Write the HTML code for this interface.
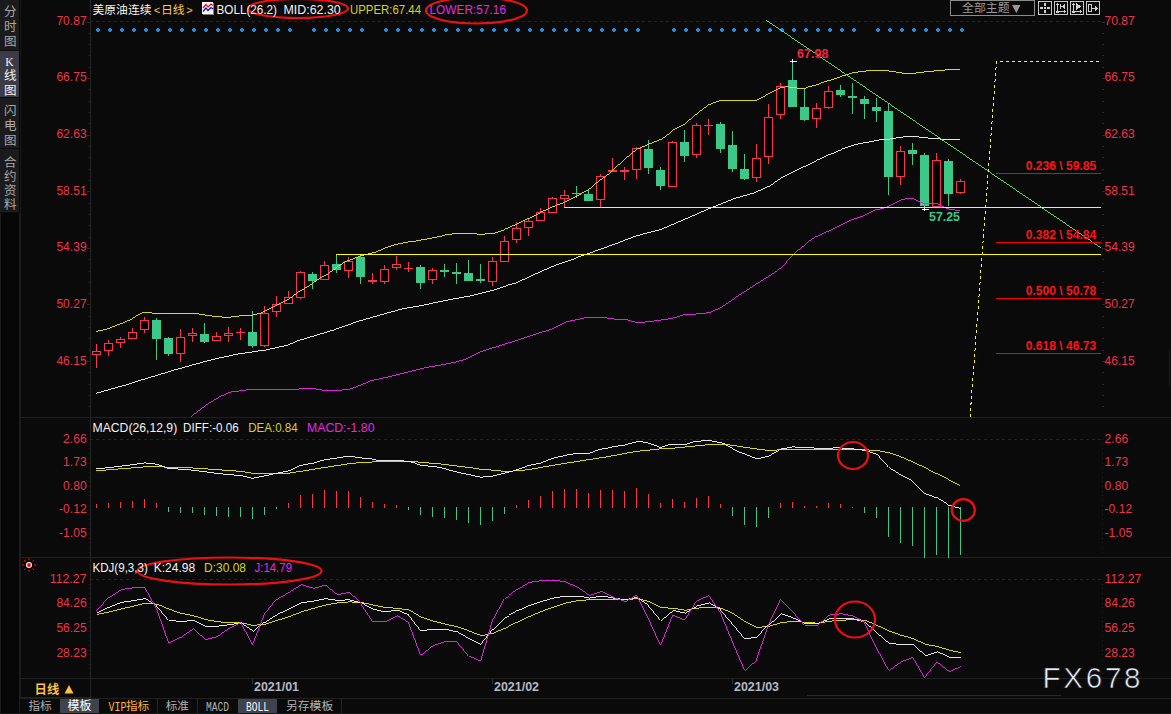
<!DOCTYPE html><html><head><meta charset="utf-8"><style>html,body{margin:0;padding:0;background:#0a0a0a;overflow:hidden}svg{display:block}</style></head><body><svg width="1171" height="714" viewBox="0 0 1171 714" font-family="Liberation Sans, sans-serif" font-size="12">
<rect width="1171" height="714" fill="#0a0a0a"/>
<rect x="0" y="0" width="20" height="714" fill="#060606"/>
<rect x="0" y="0" width="19" height="213" fill="#1b1b1d"/>
<rect x="0" y="51" width="19" height="46" fill="#3c3c46"/>
<line x1="0" x2="19" y1="50.5" y2="50.5" stroke="#0c0c0c"/>
<line x1="0" x2="19" y1="97.5" y2="97.5" stroke="#0c0c0c"/>
<line x1="0" x2="19" y1="148.5" y2="148.5" stroke="#0c0c0c"/>
<line x1="0" x2="19" y1="212.5" y2="212.5" stroke="#0c0c0c"/>
<g fill="#a8a8a8" font-family="'Liberation Sans', 'Noto Sans CJK SC', sans-serif" font-size="12.5"><text x="4" y="16">分</text><text x="4" y="31">时</text><text x="4" y="46">图</text></g>
<text x="9.5" y="66" text-anchor="middle" font-family="Liberation Serif, serif" font-size="11.5" fill="#f4f4f4">K</text>
<g fill="#f4f4f4" font-family="'Liberation Sans', 'Noto Sans CJK SC', sans-serif" font-size="12.5"><text x="4" y="80">线</text><text x="4" y="95">图</text></g>
<g fill="#a8a8a8" font-family="'Liberation Sans', 'Noto Sans CJK SC', sans-serif" font-size="12.5"><text x="4" y="115">闪</text><text x="4" y="130">电</text><text x="4" y="145">图</text></g>
<g fill="#a8a8a8" font-family="'Liberation Sans', 'Noto Sans CJK SC', sans-serif" font-size="12.5"><text x="4" y="167">合</text><text x="4" y="181">约</text><text x="4" y="195">资</text><text x="4" y="209">料</text></g>
<g shape-rendering="crispEdges">
<line x1="20.5" x2="20.5" y1="0" y2="698" stroke="#1a1a1a"/>
<line x1="90.5" x2="90.5" y1="0" y2="697" stroke="#262626"/>
<line x1="21" x2="1171" y1="417.5" y2="417.5" stroke="#202020"/>
<line x1="21" x2="1171" y1="557.5" y2="557.5" stroke="#202020"/>
<line x1="21" x2="1171" y1="678.5" y2="678.5" stroke="#202020"/>
<line x1="20" x2="91" y1="697.5" y2="697.5" stroke="#222222"/>
<line x1="20" x2="1171" y1="698.5" y2="698.5" stroke="#202020"/>
<line x1="0" x2="1171" y1="713.5" y2="713.5" stroke="#161616"/>
<line x1="0.5" x2="0.5" y1="213" y2="714" stroke="#1c1c1c"/>
<line x1="19.5" x2="19.5" y1="213" y2="714" stroke="#1e1e1e"/>
<line x1="807" x2="1061" y1="695.5" y2="695.5" stroke="#2a2a2a"/>
<line x1="1102.5" x2="1102.5" y1="439" y2="556" stroke="#1e1e1e" stroke-dasharray="1 3.7"/>
<line x1="1102.5" x2="1102.5" y1="579" y2="678" stroke="#1e1e1e" stroke-dasharray="1 3.7"/>
<line x1="89.5" x2="89.5" y1="439" y2="556" stroke="#1e1e1e" stroke-dasharray="1 3.7"/>
<line x1="89.5" x2="89.5" y1="579" y2="678" stroke="#1e1e1e" stroke-dasharray="1 3.7"/>
<line x1="1169.5" x2="1169.5" y1="350" y2="386" stroke="#1c1c1c"/>
<line x1="87" x2="90" y1="22.5" y2="22.5" stroke="#2a2a2a"/>
<line x1="1102" x2="1105" y1="22.5" y2="22.5" stroke="#2a2a2a"/>
<line x1="88.5" x2="90" y1="33.5" y2="33.5" stroke="#2a2a2a"/>
<line x1="1102" x2="1103.5" y1="33.5" y2="33.5" stroke="#2a2a2a"/>
<line x1="88.5" x2="90" y1="44.5" y2="44.5" stroke="#2a2a2a"/>
<line x1="1102" x2="1103.5" y1="44.5" y2="44.5" stroke="#2a2a2a"/>
<line x1="88.5" x2="90" y1="55.5" y2="55.5" stroke="#2a2a2a"/>
<line x1="1102" x2="1103.5" y1="55.5" y2="55.5" stroke="#2a2a2a"/>
<line x1="88.5" x2="90" y1="67.5" y2="67.5" stroke="#2a2a2a"/>
<line x1="1102" x2="1103.5" y1="67.5" y2="67.5" stroke="#2a2a2a"/>
<line x1="87" x2="90" y1="78.5" y2="78.5" stroke="#2a2a2a"/>
<line x1="1102" x2="1105" y1="78.5" y2="78.5" stroke="#2a2a2a"/>
<line x1="88.5" x2="90" y1="89.5" y2="89.5" stroke="#2a2a2a"/>
<line x1="1102" x2="1103.5" y1="89.5" y2="89.5" stroke="#2a2a2a"/>
<line x1="88.5" x2="90" y1="101.5" y2="101.5" stroke="#2a2a2a"/>
<line x1="1102" x2="1103.5" y1="101.5" y2="101.5" stroke="#2a2a2a"/>
<line x1="88.5" x2="90" y1="112.5" y2="112.5" stroke="#2a2a2a"/>
<line x1="1102" x2="1103.5" y1="112.5" y2="112.5" stroke="#2a2a2a"/>
<line x1="88.5" x2="90" y1="123.5" y2="123.5" stroke="#2a2a2a"/>
<line x1="1102" x2="1103.5" y1="123.5" y2="123.5" stroke="#2a2a2a"/>
<line x1="87" x2="90" y1="135.5" y2="135.5" stroke="#2a2a2a"/>
<line x1="1102" x2="1105" y1="135.5" y2="135.5" stroke="#2a2a2a"/>
<line x1="88.5" x2="90" y1="146.5" y2="146.5" stroke="#2a2a2a"/>
<line x1="1102" x2="1103.5" y1="146.5" y2="146.5" stroke="#2a2a2a"/>
<line x1="88.5" x2="90" y1="157.5" y2="157.5" stroke="#2a2a2a"/>
<line x1="1102" x2="1103.5" y1="157.5" y2="157.5" stroke="#2a2a2a"/>
<line x1="88.5" x2="90" y1="169.5" y2="169.5" stroke="#2a2a2a"/>
<line x1="1102" x2="1103.5" y1="169.5" y2="169.5" stroke="#2a2a2a"/>
<line x1="88.5" x2="90" y1="180.5" y2="180.5" stroke="#2a2a2a"/>
<line x1="1102" x2="1103.5" y1="180.5" y2="180.5" stroke="#2a2a2a"/>
<line x1="87" x2="90" y1="191.5" y2="191.5" stroke="#2a2a2a"/>
<line x1="1102" x2="1105" y1="191.5" y2="191.5" stroke="#2a2a2a"/>
<line x1="88.5" x2="90" y1="203.5" y2="203.5" stroke="#2a2a2a"/>
<line x1="1102" x2="1103.5" y1="203.5" y2="203.5" stroke="#2a2a2a"/>
<line x1="88.5" x2="90" y1="214.5" y2="214.5" stroke="#2a2a2a"/>
<line x1="1102" x2="1103.5" y1="214.5" y2="214.5" stroke="#2a2a2a"/>
<line x1="88.5" x2="90" y1="225.5" y2="225.5" stroke="#2a2a2a"/>
<line x1="1102" x2="1103.5" y1="225.5" y2="225.5" stroke="#2a2a2a"/>
<line x1="88.5" x2="90" y1="237.5" y2="237.5" stroke="#2a2a2a"/>
<line x1="1102" x2="1103.5" y1="237.5" y2="237.5" stroke="#2a2a2a"/>
<line x1="87" x2="90" y1="248.5" y2="248.5" stroke="#2a2a2a"/>
<line x1="1102" x2="1105" y1="248.5" y2="248.5" stroke="#2a2a2a"/>
<line x1="88.5" x2="90" y1="259.5" y2="259.5" stroke="#2a2a2a"/>
<line x1="1102" x2="1103.5" y1="259.5" y2="259.5" stroke="#2a2a2a"/>
<line x1="88.5" x2="90" y1="271.5" y2="271.5" stroke="#2a2a2a"/>
<line x1="1102" x2="1103.5" y1="271.5" y2="271.5" stroke="#2a2a2a"/>
<line x1="88.5" x2="90" y1="282.5" y2="282.5" stroke="#2a2a2a"/>
<line x1="1102" x2="1103.5" y1="282.5" y2="282.5" stroke="#2a2a2a"/>
<line x1="88.5" x2="90" y1="293.5" y2="293.5" stroke="#2a2a2a"/>
<line x1="1102" x2="1103.5" y1="293.5" y2="293.5" stroke="#2a2a2a"/>
<line x1="87" x2="90" y1="304.5" y2="304.5" stroke="#2a2a2a"/>
<line x1="1102" x2="1105" y1="304.5" y2="304.5" stroke="#2a2a2a"/>
<line x1="88.5" x2="90" y1="316.5" y2="316.5" stroke="#2a2a2a"/>
<line x1="1102" x2="1103.5" y1="316.5" y2="316.5" stroke="#2a2a2a"/>
<line x1="88.5" x2="90" y1="327.5" y2="327.5" stroke="#2a2a2a"/>
<line x1="1102" x2="1103.5" y1="327.5" y2="327.5" stroke="#2a2a2a"/>
<line x1="88.5" x2="90" y1="338.5" y2="338.5" stroke="#2a2a2a"/>
<line x1="1102" x2="1103.5" y1="338.5" y2="338.5" stroke="#2a2a2a"/>
<line x1="88.5" x2="90" y1="350.5" y2="350.5" stroke="#2a2a2a"/>
<line x1="1102" x2="1103.5" y1="350.5" y2="350.5" stroke="#2a2a2a"/>
<line x1="87" x2="90" y1="361.5" y2="361.5" stroke="#2a2a2a"/>
<line x1="1102" x2="1105" y1="361.5" y2="361.5" stroke="#2a2a2a"/>
<line x1="88.5" x2="90" y1="372.5" y2="372.5" stroke="#2a2a2a"/>
<line x1="1102" x2="1103.5" y1="372.5" y2="372.5" stroke="#2a2a2a"/>
<line x1="88.5" x2="90" y1="384.5" y2="384.5" stroke="#2a2a2a"/>
<line x1="1102" x2="1103.5" y1="384.5" y2="384.5" stroke="#2a2a2a"/>
<line x1="88.5" x2="90" y1="395.5" y2="395.5" stroke="#2a2a2a"/>
<line x1="1102" x2="1103.5" y1="395.5" y2="395.5" stroke="#2a2a2a"/>
<line x1="88.5" x2="90" y1="406.5" y2="406.5" stroke="#2a2a2a"/>
<line x1="1102" x2="1103.5" y1="406.5" y2="406.5" stroke="#2a2a2a"/>
<line x1="90" x2="1102" y1="21.5" y2="21.5" stroke="#232323" stroke-dasharray="3 3"/>
<line x1="90" x2="1102" y1="439.5" y2="439.5" stroke="#232323" stroke-dasharray="3 3"/>
<line x1="90" x2="1102" y1="579.5" y2="579.5" stroke="#232323" stroke-dasharray="3 3"/>
<path fill="#1e90e6" d="M97 28h2v1h1v2h-1v1h-2v-1h-1v-2h1z"/>
<path fill="#1e90e6" d="M109 28h2v1h1v2h-1v1h-2v-1h-1v-2h1z"/>
<path fill="#1e90e6" d="M121 28h2v1h1v2h-1v1h-2v-1h-1v-2h1z"/>
<path fill="#1e90e6" d="M133 28h2v1h1v2h-1v1h-2v-1h-1v-2h1z"/>
<path fill="#1e90e6" d="M145 28h2v1h1v2h-1v1h-2v-1h-1v-2h1z"/>
<path fill="#1e90e6" d="M157 28h2v1h1v2h-1v1h-2v-1h-1v-2h1z"/>
<path fill="#1e90e6" d="M169 28h2v1h1v2h-1v1h-2v-1h-1v-2h1z"/>
<path fill="#1e90e6" d="M181 28h2v1h1v2h-1v1h-2v-1h-1v-2h1z"/>
<path fill="#1e90e6" d="M193 28h2v1h1v2h-1v1h-2v-1h-1v-2h1z"/>
<path fill="#1e90e6" d="M205 28h2v1h1v2h-1v1h-2v-1h-1v-2h1z"/>
<path fill="#1e90e6" d="M217 28h2v1h1v2h-1v1h-2v-1h-1v-2h1z"/>
<path fill="#1e90e6" d="M229 28h2v1h1v2h-1v1h-2v-1h-1v-2h1z"/>
<path fill="#1e90e6" d="M241 28h2v1h1v2h-1v1h-2v-1h-1v-2h1z"/>
<path fill="#1e90e6" d="M253 28h2v1h1v2h-1v1h-2v-1h-1v-2h1z"/>
<path fill="#1e90e6" d="M265 28h2v1h1v2h-1v1h-2v-1h-1v-2h1z"/>
<path fill="#1e90e6" d="M277 28h2v1h1v2h-1v1h-2v-1h-1v-2h1z"/>
<path fill="#1e90e6" d="M289 28h2v1h1v2h-1v1h-2v-1h-1v-2h1z"/>
<path fill="#1e90e6" d="M313 28h2v1h1v2h-1v1h-2v-1h-1v-2h1z"/>
<path fill="#1e90e6" d="M325 28h2v1h1v2h-1v1h-2v-1h-1v-2h1z"/>
<path fill="#1e90e6" d="M337 28h2v1h1v2h-1v1h-2v-1h-1v-2h1z"/>
<path fill="#1e90e6" d="M349 28h2v1h1v2h-1v1h-2v-1h-1v-2h1z"/>
<path fill="#1e90e6" d="M361 28h2v1h1v2h-1v1h-2v-1h-1v-2h1z"/>
<path fill="#1e90e6" d="M385 28h2v1h1v2h-1v1h-2v-1h-1v-2h1z"/>
<path fill="#1e90e6" d="M397 28h2v1h1v2h-1v1h-2v-1h-1v-2h1z"/>
<path fill="#1e90e6" d="M409 28h2v1h1v2h-1v1h-2v-1h-1v-2h1z"/>
<path fill="#1e90e6" d="M421 28h2v1h1v2h-1v1h-2v-1h-1v-2h1z"/>
<path fill="#1e90e6" d="M433 28h2v1h1v2h-1v1h-2v-1h-1v-2h1z"/>
<path fill="#1e90e6" d="M445 28h2v1h1v2h-1v1h-2v-1h-1v-2h1z"/>
<path fill="#1e90e6" d="M457 28h2v1h1v2h-1v1h-2v-1h-1v-2h1z"/>
<path fill="#1e90e6" d="M469 28h2v1h1v2h-1v1h-2v-1h-1v-2h1z"/>
<path fill="#1e90e6" d="M481 28h2v1h1v2h-1v1h-2v-1h-1v-2h1z"/>
<path fill="#1e90e6" d="M493 28h2v1h1v2h-1v1h-2v-1h-1v-2h1z"/>
<path fill="#1e90e6" d="M505 28h2v1h1v2h-1v1h-2v-1h-1v-2h1z"/>
<path fill="#1e90e6" d="M517 28h2v1h1v2h-1v1h-2v-1h-1v-2h1z"/>
<path fill="#1e90e6" d="M529 28h2v1h1v2h-1v1h-2v-1h-1v-2h1z"/>
<path fill="#1e90e6" d="M541 28h2v1h1v2h-1v1h-2v-1h-1v-2h1z"/>
<path fill="#1e90e6" d="M553 28h2v1h1v2h-1v1h-2v-1h-1v-2h1z"/>
<path fill="#1e90e6" d="M565 28h2v1h1v2h-1v1h-2v-1h-1v-2h1z"/>
<path fill="#1e90e6" d="M577 28h2v1h1v2h-1v1h-2v-1h-1v-2h1z"/>
<path fill="#1e90e6" d="M589 28h2v1h1v2h-1v1h-2v-1h-1v-2h1z"/>
<path fill="#1e90e6" d="M601 28h2v1h1v2h-1v1h-2v-1h-1v-2h1z"/>
<path fill="#1e90e6" d="M613 28h2v1h1v2h-1v1h-2v-1h-1v-2h1z"/>
<path fill="#1e90e6" d="M625 28h2v1h1v2h-1v1h-2v-1h-1v-2h1z"/>
<path fill="#1e90e6" d="M637 28h2v1h1v2h-1v1h-2v-1h-1v-2h1z"/>
<path fill="#1e90e6" d="M673 28h2v1h1v2h-1v1h-2v-1h-1v-2h1z"/>
<path fill="#1e90e6" d="M685 28h2v1h1v2h-1v1h-2v-1h-1v-2h1z"/>
<path fill="#1e90e6" d="M697 28h2v1h1v2h-1v1h-2v-1h-1v-2h1z"/>
<path fill="#1e90e6" d="M709 28h2v1h1v2h-1v1h-2v-1h-1v-2h1z"/>
<path fill="#1e90e6" d="M721 28h2v1h1v2h-1v1h-2v-1h-1v-2h1z"/>
<path fill="#1e90e6" d="M733 28h2v1h1v2h-1v1h-2v-1h-1v-2h1z"/>
<path fill="#1e90e6" d="M745 28h2v1h1v2h-1v1h-2v-1h-1v-2h1z"/>
<path fill="#1e90e6" d="M757 28h2v1h1v2h-1v1h-2v-1h-1v-2h1z"/>
<path fill="#1e90e6" d="M769 28h2v1h1v2h-1v1h-2v-1h-1v-2h1z"/>
<path fill="#1e90e6" d="M781 28h2v1h1v2h-1v1h-2v-1h-1v-2h1z"/>
<path fill="#1e90e6" d="M793 28h2v1h1v2h-1v1h-2v-1h-1v-2h1z"/>
<path fill="#1e90e6" d="M805 28h2v1h1v2h-1v1h-2v-1h-1v-2h1z"/>
<path fill="#1e90e6" d="M817 28h2v1h1v2h-1v1h-2v-1h-1v-2h1z"/>
<path fill="#1e90e6" d="M829 28h2v1h1v2h-1v1h-2v-1h-1v-2h1z"/>
<path fill="#1e90e6" d="M841 28h2v1h1v2h-1v1h-2v-1h-1v-2h1z"/>
<path fill="#1e90e6" d="M853 28h2v1h1v2h-1v1h-2v-1h-1v-2h1z"/>
<path fill="#1e90e6" d="M877 28h2v1h1v2h-1v1h-2v-1h-1v-2h1z"/>
<path fill="#1e90e6" d="M889 28h2v1h1v2h-1v1h-2v-1h-1v-2h1z"/>
<path fill="#1e90e6" d="M901 28h2v1h1v2h-1v1h-2v-1h-1v-2h1z"/>
<path fill="#1e90e6" d="M913 28h2v1h1v2h-1v1h-2v-1h-1v-2h1z"/>
<path fill="#1e90e6" d="M925 28h2v1h1v2h-1v1h-2v-1h-1v-2h1z"/>
<path fill="#1e90e6" d="M937 28h2v1h1v2h-1v1h-2v-1h-1v-2h1z"/>
<path fill="#1e90e6" d="M949 28h2v1h1v2h-1v1h-2v-1h-1v-2h1z"/>
<path fill="#1e90e6" d="M961 28h2v1h1v2h-1v1h-2v-1h-1v-2h1z"/>
<rect x="96" y="344" width="1" height="24" fill="#ff3250"/>
<rect x="92" y="351" width="9" height="4" fill="#ff3250"/>
<rect x="93" y="352" width="7" height="2" fill="#000"/>
<rect x="108" y="340" width="1" height="16" fill="#ff3250"/>
<rect x="104" y="343" width="9" height="8" fill="#ff3250"/>
<rect x="105" y="344" width="7" height="6" fill="#000"/>
<rect x="120" y="337" width="1" height="11" fill="#ff3250"/>
<rect x="116" y="339" width="9" height="4" fill="#ff3250"/>
<rect x="117" y="340" width="7" height="2" fill="#000"/>
<rect x="132" y="328" width="1" height="11" fill="#ff3250"/>
<rect x="128" y="332" width="9" height="7" fill="#ff3250"/>
<rect x="129" y="333" width="7" height="5" fill="#000"/>
<rect x="144" y="317" width="1" height="16" fill="#ff3250"/>
<rect x="140" y="320" width="9" height="10" fill="#ff3250"/>
<rect x="141" y="321" width="7" height="8" fill="#000"/>
<rect x="156" y="318" width="1" height="42" fill="#3cc888"/>
<rect x="152" y="320" width="9" height="19" fill="#3cc888"/>
<rect x="168" y="337" width="1" height="19" fill="#3cc888"/>
<rect x="164" y="338" width="9" height="16" fill="#3cc888"/>
<rect x="180" y="329" width="1" height="33" fill="#ff3250"/>
<rect x="176" y="337" width="9" height="17" fill="#ff3250"/>
<rect x="177" y="338" width="7" height="15" fill="#000"/>
<rect x="192" y="328" width="1" height="14" fill="#ff3250"/>
<rect x="188" y="333" width="9" height="3" fill="#ff3250"/>
<rect x="189" y="334" width="7" height="1" fill="#000"/>
<rect x="204" y="323" width="1" height="20" fill="#3cc888"/>
<rect x="200" y="334" width="9" height="8" fill="#3cc888"/>
<rect x="216" y="332" width="1" height="9" fill="#ff3250"/>
<rect x="212" y="336" width="9" height="5" fill="#ff3250"/>
<rect x="213" y="337" width="7" height="3" fill="#000"/>
<rect x="228" y="327" width="1" height="15" fill="#ff3250"/>
<rect x="224" y="333" width="9" height="3" fill="#ff3250"/>
<rect x="225" y="334" width="7" height="1" fill="#000"/>
<rect x="240" y="328" width="1" height="12" fill="#ff3250"/>
<rect x="236" y="332" width="9" height="1" fill="#ff3250"/>
<rect x="252" y="311" width="1" height="37" fill="#3cc888"/>
<rect x="248" y="332" width="9" height="14" fill="#3cc888"/>
<rect x="264" y="306" width="1" height="41" fill="#ff3250"/>
<rect x="260" y="313" width="9" height="33" fill="#ff3250"/>
<rect x="261" y="314" width="7" height="31" fill="#000"/>
<rect x="276" y="296" width="1" height="21" fill="#ff3250"/>
<rect x="272" y="304" width="9" height="8" fill="#ff3250"/>
<rect x="273" y="305" width="7" height="6" fill="#000"/>
<rect x="288" y="291" width="1" height="13" fill="#ff3250"/>
<rect x="284" y="297" width="9" height="7" fill="#ff3250"/>
<rect x="285" y="298" width="7" height="5" fill="#000"/>
<rect x="300" y="271" width="1" height="28" fill="#ff3250"/>
<rect x="296" y="272" width="9" height="26" fill="#ff3250"/>
<rect x="297" y="273" width="7" height="24" fill="#000"/>
<rect x="312" y="272" width="1" height="17" fill="#3cc888"/>
<rect x="308" y="274" width="9" height="7" fill="#3cc888"/>
<rect x="324" y="261" width="1" height="19" fill="#ff3250"/>
<rect x="320" y="265" width="9" height="15" fill="#ff3250"/>
<rect x="321" y="266" width="7" height="13" fill="#000"/>
<rect x="336" y="254" width="1" height="19" fill="#3cc888"/>
<rect x="332" y="264" width="9" height="6" fill="#3cc888"/>
<rect x="348" y="257" width="1" height="21" fill="#ff3250"/>
<rect x="344" y="261" width="9" height="10" fill="#ff3250"/>
<rect x="345" y="262" width="7" height="8" fill="#000"/>
<rect x="360" y="255" width="1" height="29" fill="#3cc888"/>
<rect x="356" y="257" width="9" height="20" fill="#3cc888"/>
<rect x="372" y="273" width="1" height="11" fill="#ff3250"/>
<rect x="368" y="280" width="9" height="2" fill="#ff3250"/>
<rect x="384" y="265" width="1" height="19" fill="#ff3250"/>
<rect x="380" y="269" width="9" height="13" fill="#ff3250"/>
<rect x="381" y="270" width="7" height="11" fill="#000"/>
<rect x="396" y="256" width="1" height="14" fill="#ff3250"/>
<rect x="392" y="264" width="9" height="4" fill="#ff3250"/>
<rect x="393" y="265" width="7" height="2" fill="#000"/>
<rect x="408" y="262" width="1" height="10" fill="#ff3250"/>
<rect x="404" y="268" width="9" height="1" fill="#ff3250"/>
<rect x="420" y="265" width="1" height="24" fill="#3cc888"/>
<rect x="416" y="267" width="9" height="16" fill="#3cc888"/>
<rect x="432" y="268" width="1" height="16" fill="#ff3250"/>
<rect x="428" y="270" width="9" height="10" fill="#ff3250"/>
<rect x="429" y="271" width="7" height="8" fill="#000"/>
<rect x="444" y="264" width="1" height="13" fill="#3cc888"/>
<rect x="440" y="270" width="9" height="2" fill="#3cc888"/>
<rect x="456" y="263" width="1" height="21" fill="#3cc888"/>
<rect x="452" y="272" width="9" height="2" fill="#3cc888"/>
<rect x="468" y="260" width="1" height="21" fill="#3cc888"/>
<rect x="464" y="273" width="9" height="8" fill="#3cc888"/>
<rect x="480" y="264" width="1" height="19" fill="#3cc888"/>
<rect x="476" y="279" width="9" height="2" fill="#3cc888"/>
<rect x="492" y="257" width="1" height="29" fill="#ff3250"/>
<rect x="488" y="261" width="9" height="21" fill="#ff3250"/>
<rect x="489" y="262" width="7" height="19" fill="#000"/>
<rect x="504" y="236" width="1" height="26" fill="#ff3250"/>
<rect x="500" y="241" width="9" height="21" fill="#ff3250"/>
<rect x="501" y="242" width="7" height="19" fill="#000"/>
<rect x="516" y="222" width="1" height="21" fill="#ff3250"/>
<rect x="512" y="228" width="9" height="12" fill="#ff3250"/>
<rect x="513" y="229" width="7" height="10" fill="#000"/>
<rect x="528" y="219" width="1" height="17" fill="#ff3250"/>
<rect x="524" y="221" width="9" height="7" fill="#ff3250"/>
<rect x="525" y="222" width="7" height="5" fill="#000"/>
<rect x="540" y="208" width="1" height="13" fill="#ff3250"/>
<rect x="536" y="212" width="9" height="9" fill="#ff3250"/>
<rect x="537" y="213" width="7" height="7" fill="#000"/>
<rect x="552" y="197" width="1" height="16" fill="#ff3250"/>
<rect x="548" y="198" width="9" height="15" fill="#ff3250"/>
<rect x="549" y="199" width="7" height="13" fill="#000"/>
<rect x="564" y="190" width="1" height="17" fill="#ff3250"/>
<rect x="560" y="195" width="9" height="4" fill="#ff3250"/>
<rect x="561" y="196" width="7" height="2" fill="#000"/>
<rect x="576" y="186" width="1" height="12" fill="#3cc888"/>
<rect x="572" y="193" width="9" height="1" fill="#3cc888"/>
<rect x="588" y="189" width="1" height="12" fill="#3cc888"/>
<rect x="584" y="194" width="9" height="7" fill="#3cc888"/>
<rect x="600" y="174" width="1" height="33" fill="#ff3250"/>
<rect x="596" y="176" width="9" height="24" fill="#ff3250"/>
<rect x="597" y="177" width="7" height="22" fill="#000"/>
<rect x="612" y="158" width="1" height="14" fill="#ff3250"/>
<rect x="608" y="170" width="9" height="2" fill="#ff3250"/>
<rect x="624" y="167" width="1" height="13" fill="#ff3250"/>
<rect x="620" y="170" width="9" height="2" fill="#ff3250"/>
<rect x="636" y="147" width="1" height="32" fill="#ff3250"/>
<rect x="632" y="148" width="9" height="22" fill="#ff3250"/>
<rect x="633" y="149" width="7" height="20" fill="#000"/>
<rect x="648" y="140" width="1" height="34" fill="#3cc888"/>
<rect x="644" y="149" width="9" height="19" fill="#3cc888"/>
<rect x="660" y="167" width="1" height="23" fill="#3cc888"/>
<rect x="656" y="170" width="9" height="16" fill="#3cc888"/>
<rect x="672" y="141" width="1" height="46" fill="#ff3250"/>
<rect x="668" y="142" width="9" height="45" fill="#ff3250"/>
<rect x="669" y="143" width="7" height="43" fill="#000"/>
<rect x="684" y="130" width="1" height="32" fill="#3cc888"/>
<rect x="680" y="142" width="9" height="14" fill="#3cc888"/>
<rect x="696" y="123" width="1" height="35" fill="#ff3250"/>
<rect x="692" y="125" width="9" height="30" fill="#ff3250"/>
<rect x="693" y="126" width="7" height="28" fill="#000"/>
<rect x="708" y="119" width="1" height="16" fill="#ff3250"/>
<rect x="704" y="125" width="9" height="1" fill="#ff3250"/>
<rect x="720" y="122" width="1" height="31" fill="#3cc888"/>
<rect x="716" y="124" width="9" height="25" fill="#3cc888"/>
<rect x="732" y="131" width="1" height="41" fill="#3cc888"/>
<rect x="728" y="145" width="9" height="24" fill="#3cc888"/>
<rect x="744" y="154" width="1" height="26" fill="#3cc888"/>
<rect x="740" y="169" width="9" height="10" fill="#3cc888"/>
<rect x="756" y="144" width="1" height="38" fill="#ff3250"/>
<rect x="752" y="158" width="9" height="20" fill="#ff3250"/>
<rect x="753" y="159" width="7" height="18" fill="#000"/>
<rect x="768" y="104" width="1" height="60" fill="#ff3250"/>
<rect x="764" y="117" width="9" height="40" fill="#ff3250"/>
<rect x="765" y="118" width="7" height="38" fill="#000"/>
<rect x="780" y="83" width="1" height="36" fill="#ff3250"/>
<rect x="776" y="86" width="9" height="29" fill="#ff3250"/>
<rect x="777" y="87" width="7" height="27" fill="#000"/>
<rect x="792" y="61" width="1" height="46" fill="#3cc888"/>
<rect x="788" y="80" width="9" height="27" fill="#3cc888"/>
<rect x="804" y="89" width="1" height="32" fill="#3cc888"/>
<rect x="800" y="107" width="9" height="13" fill="#3cc888"/>
<rect x="816" y="103" width="1" height="25" fill="#ff3250"/>
<rect x="812" y="108" width="9" height="11" fill="#ff3250"/>
<rect x="813" y="109" width="7" height="9" fill="#000"/>
<rect x="828" y="86" width="1" height="23" fill="#ff3250"/>
<rect x="824" y="91" width="9" height="17" fill="#ff3250"/>
<rect x="825" y="92" width="7" height="15" fill="#000"/>
<rect x="840" y="85" width="1" height="12" fill="#3cc888"/>
<rect x="836" y="90" width="9" height="5" fill="#3cc888"/>
<rect x="852" y="83" width="1" height="31" fill="#3cc888"/>
<rect x="848" y="96" width="9" height="2" fill="#3cc888"/>
<rect x="864" y="96" width="1" height="23" fill="#3cc888"/>
<rect x="860" y="99" width="9" height="5" fill="#3cc888"/>
<rect x="876" y="98" width="1" height="24" fill="#3cc888"/>
<rect x="872" y="107" width="9" height="4" fill="#3cc888"/>
<rect x="888" y="104" width="1" height="91" fill="#3cc888"/>
<rect x="884" y="111" width="9" height="66" fill="#3cc888"/>
<rect x="900" y="146" width="1" height="39" fill="#ff3250"/>
<rect x="896" y="151" width="9" height="26" fill="#ff3250"/>
<rect x="897" y="152" width="7" height="24" fill="#000"/>
<rect x="912" y="143" width="1" height="22" fill="#3cc888"/>
<rect x="908" y="150" width="9" height="4" fill="#3cc888"/>
<rect x="924" y="153" width="1" height="56" fill="#3cc888"/>
<rect x="920" y="155" width="9" height="51" fill="#3cc888"/>
<rect x="936" y="153" width="1" height="54" fill="#ff3250"/>
<rect x="932" y="160" width="9" height="47" fill="#ff3250"/>
<rect x="933" y="161" width="7" height="45" fill="#000"/>
<rect x="948" y="159" width="1" height="47" fill="#3cc888"/>
<rect x="944" y="161" width="9" height="33" fill="#3cc888"/>
<rect x="960" y="179" width="1" height="15" fill="#ff3250"/>
<rect x="956" y="181" width="9" height="12" fill="#ff3250"/>
<rect x="957" y="182" width="7" height="10" fill="#000"/>
<polyline fill="none" stroke="#e1e11e" stroke-width="0.95" points="96.0,331.6 108.4,328.6 120.5,323.8 132.4,318.2 143.5,312.0 150.5,312.0 152.0,313.5 196.0,313.5 202.0,314.6 213.0,316.1 224.0,317.2 230.0,317.2 237.6,316.1 253.0,315.0 260.6,313.0 268.3,309.2 276.6,305.1 288.7,299.3 300.5,290.5 312.6,282.9 324.5,275.5 336.4,267.1 348.5,260.1 360.4,255.8 372.5,252.8 384.6,248.2 396.4,244.4 408.5,241.9 420.4,240.2 432.5,237.9 444.6,235.1 456.4,233.4 468.5,233.4 480.4,234.4 492.5,233.4 504.6,229.3 516.4,224.3 528.5,218.5 540.4,212.4 552.2,207.0 564.4,202.4 576.0,196.5 588.4,189.8 600.5,179.5 612.3,170.5 624.4,159.6 636.3,149.5 648.4,144.4 660.5,139.4 672.3,130.6 684.4,124.3 696.3,114.2 708.3,104.9 720.4,100.3 732.3,100.3 756.7,100.3 768.3,94.0 780.4,87.8 786.0,86.8 792.4,87.2 800.0,88.6 805.0,88.6 809.4,86.5 816.4,85.0 822.0,82.8 828.5,80.5 840.6,76.6 852.4,72.8 864.5,71.0 876.4,70.2 888.5,71.0 900.3,72.8 908.6,74.0 921.2,72.3 936.4,70.8 948.5,69.7 960.0,69.3" />
<polyline fill="none" stroke="#f0f0f0" stroke-width="0.95" points="96.0,393.3 120.5,386.3 144.5,378.7 168.4,371.7 192.6,364.9 216.3,358.6 240.5,353.5 264.5,350.0 288.7,344.7 300.5,339.7 324.5,332.5 336.4,328.9 360.4,320.6 384.6,313.8 403.2,308.7 420.4,305.7 444.6,300.7 468.5,296.1 480.0,293.4 492.5,290.3 507.3,285.2 516.4,282.8 534.7,274.3 556.5,264.7 575.7,257.9 589.3,253.2 616.6,243.4 635.8,236.0 661.7,229.2 682.2,220.4 712.3,207.3 734.2,198.6 753.3,193.2 769.7,186.0 780.3,178.6 792.4,172.3 804.5,166.0 816.4,160.5 828.5,154.7 840.6,149.7 852.4,145.4 864.5,142.6 876.4,140.3 888.5,139.1 900.3,137.2 908.6,136.5 913.7,136.4 921.2,137.2 936.4,138.9 948.5,139.3 960.0,139.5" />
<polyline fill="none" stroke="#e628e6" stroke-width="0.95" points="191.0,416.5 207.3,404.3 221.0,396.1 230.6,392.0 249.7,389.6 289.3,389.3 305.7,388.8 315.3,388.8 322.1,390.1 341.2,390.1 349.4,389.3 360.4,385.2 371.3,380.6 387.7,377.0 404.1,372.9 426.0,367.5 442.4,364.7 456.0,362.0 467.0,358.7 480.6,351.6 507.3,343.4 534.7,334.4 552.4,328.9 567.5,321.3 583.9,318.0 603.0,317.5 616.6,319.4 627.6,319.9 637.1,322.7 649.4,321.6 671.3,318.6 685.0,314.5 698.6,313.9 709.6,312.5 721.9,307.1 739.6,294.8 758.8,282.5 770.0,275.5 780.0,268.6 786.2,262.4 793.1,254.4 798.5,249.3 807.0,242.4 814.7,237.3 822.4,233.9 831.6,229.6 840.9,225.0 851.6,219.7 862.4,216.2 874.8,210.0 884.0,208.2 890.0,205.5 900.3,200.1 906.0,198.8 912.0,198.3 916.0,200.0 920.0,202.0 925.2,204.0 931.5,203.3 936.8,203.3 942.0,206.0 947.3,208.8 954.6,209.9 960.0,210.6" />
<line x1="336" x2="1101" y1="254.5" y2="254.5" stroke="#ffff00"/>
<line x1="564" x2="1101" y1="207.5" y2="207.5" stroke="#ffff00"/>
<path d="M790 61.5h7M792.5 59v4" stroke="#fff" fill="none"/>
<path d="M922 209.5h7M924.5 208v3" stroke="#fff" fill="none"/>
<line x1="766" y1="20" x2="1101" y2="247.8" stroke="#64f064" stroke-width="0.9"/>
<polyline fill="none" stroke="#ffff00" stroke-dasharray="3 3" points="970,417 996.5,61.5 1102,61.5"/>
<line x1="996" x2="1101" y1="173.5" y2="173.5" stroke="#ff0000"/>
<line x1="996" x2="1101" y1="242.5" y2="242.5" stroke="#ff0000"/>
<line x1="996" x2="1101" y1="298.5" y2="298.5" stroke="#ff0000"/>
<line x1="996" x2="1101" y1="353.5" y2="353.5" stroke="#ff0000"/>
<rect x="96" y="504" width="1" height="4" fill="#ff3250"/>
<rect x="108" y="503" width="1" height="5" fill="#ff3250"/>
<rect x="120" y="502" width="1" height="6" fill="#ff3250"/>
<rect x="132" y="501" width="1" height="7" fill="#ff3250"/>
<rect x="144" y="499" width="1" height="9" fill="#ff3250"/>
<rect x="156" y="503" width="1" height="5" fill="#ff3250"/>
<rect x="168" y="507" width="1" height="5" fill="#3cc888"/>
<rect x="180" y="507" width="1" height="6" fill="#3cc888"/>
<rect x="192" y="507" width="1" height="6" fill="#3cc888"/>
<rect x="204" y="507" width="1" height="8" fill="#3cc888"/>
<rect x="216" y="507" width="1" height="9" fill="#3cc888"/>
<rect x="228" y="507" width="1" height="10" fill="#3cc888"/>
<rect x="240" y="507" width="1" height="10" fill="#3cc888"/>
<rect x="252" y="507" width="1" height="12" fill="#3cc888"/>
<rect x="264" y="507" width="1" height="8" fill="#3cc888"/>
<rect x="276" y="507" width="1" height="2" fill="#3cc888"/>
<rect x="288" y="503" width="1" height="5" fill="#ff3250"/>
<rect x="300" y="495" width="1" height="13" fill="#ff3250"/>
<rect x="312" y="494" width="1" height="14" fill="#ff3250"/>
<rect x="324" y="490" width="1" height="18" fill="#ff3250"/>
<rect x="336" y="491" width="1" height="17" fill="#ff3250"/>
<rect x="348" y="491" width="1" height="17" fill="#ff3250"/>
<rect x="360" y="497" width="1" height="11" fill="#ff3250"/>
<rect x="372" y="502" width="1" height="6" fill="#ff3250"/>
<rect x="384" y="504" width="1" height="4" fill="#ff3250"/>
<rect x="396" y="505" width="1" height="3" fill="#ff3250"/>
<rect x="408" y="507" width="1" height="3" fill="#3cc888"/>
<rect x="420" y="507" width="1" height="8" fill="#3cc888"/>
<rect x="432" y="507" width="1" height="10" fill="#3cc888"/>
<rect x="444" y="507" width="1" height="11" fill="#3cc888"/>
<rect x="456" y="507" width="1" height="13" fill="#3cc888"/>
<rect x="468" y="507" width="1" height="16" fill="#3cc888"/>
<rect x="480" y="507" width="1" height="18" fill="#3cc888"/>
<rect x="492" y="507" width="1" height="14" fill="#3cc888"/>
<rect x="504" y="507" width="1" height="7" fill="#3cc888"/>
<rect x="516" y="505" width="1" height="3" fill="#ff3250"/>
<rect x="528" y="500" width="1" height="8" fill="#ff3250"/>
<rect x="540" y="496" width="1" height="12" fill="#ff3250"/>
<rect x="552" y="491" width="1" height="17" fill="#ff3250"/>
<rect x="564" y="489" width="1" height="19" fill="#ff3250"/>
<rect x="576" y="489" width="1" height="19" fill="#ff3250"/>
<rect x="588" y="493" width="1" height="15" fill="#ff3250"/>
<rect x="600" y="490" width="1" height="18" fill="#ff3250"/>
<rect x="612" y="490" width="1" height="18" fill="#ff3250"/>
<rect x="624" y="491" width="1" height="17" fill="#ff3250"/>
<rect x="636" y="488" width="1" height="20" fill="#ff3250"/>
<rect x="648" y="494" width="1" height="14" fill="#ff3250"/>
<rect x="660" y="503" width="1" height="5" fill="#ff3250"/>
<rect x="672" y="499" width="1" height="9" fill="#ff3250"/>
<rect x="684" y="502" width="1" height="6" fill="#ff3250"/>
<rect x="696" y="498" width="1" height="10" fill="#ff3250"/>
<rect x="708" y="496" width="1" height="12" fill="#ff3250"/>
<rect x="720" y="504" width="1" height="4" fill="#ff3250"/>
<rect x="732" y="507" width="1" height="9" fill="#3cc888"/>
<rect x="744" y="507" width="1" height="18" fill="#3cc888"/>
<rect x="756" y="507" width="1" height="20" fill="#3cc888"/>
<rect x="768" y="507" width="1" height="11" fill="#3cc888"/>
<rect x="780" y="503" width="1" height="5" fill="#ff3250"/>
<rect x="792" y="502" width="1" height="6" fill="#ff3250"/>
<rect x="804" y="506" width="1" height="2" fill="#ff3250"/>
<rect x="816" y="506" width="1" height="2" fill="#ff3250"/>
<rect x="828" y="503" width="1" height="5" fill="#ff3250"/>
<rect x="840" y="504" width="1" height="4" fill="#ff3250"/>
<rect x="852" y="507" width="1" height="1" fill="#ff3250"/>
<rect x="864" y="507" width="1" height="6" fill="#3cc888"/>
<rect x="876" y="507" width="1" height="11" fill="#3cc888"/>
<rect x="888" y="507" width="1" height="30" fill="#3cc888"/>
<rect x="900" y="507" width="1" height="36" fill="#3cc888"/>
<rect x="912" y="507" width="1" height="39" fill="#3cc888"/>
<rect x="924" y="507" width="1" height="51" fill="#3cc888"/>
<rect x="936" y="507" width="1" height="48" fill="#3cc888"/>
<rect x="948" y="507" width="1" height="51" fill="#3cc888"/>
<rect x="960" y="507" width="1" height="48" fill="#3cc888"/>
<polyline fill="none" stroke="#e1e11e" stroke-width="0.95" points="95.8,470.8 120.9,468.8 145.2,466.8 156.7,466.2 168.3,467.5 192.6,468.0 216.9,469.6 241.3,471.4 252.8,473.4 264.3,473.9 288.7,473.2 300.2,471.4 324.6,467.5 348.9,463.7 361.7,462.4 382.7,461.6 401.9,461.1 413.4,461.6 436.5,463.7 449.3,465.0 468.5,467.5 480.0,469.3 492.9,470.1 504.4,471.4 515.9,470.9 528.7,469.6 551.8,465.5 576.1,461.6 600.5,457.8 624.8,453.4 636.3,451.4 649.1,450.1 660.7,448.8 672.2,448.3 694.0,446.1 708.6,444.6 723.1,444.0 737.6,446.1 756.5,449.0 768.1,450.4 781.1,449.8 821.8,449.3 853.7,449.3 865.3,449.8 877.0,450.4 888.6,452.7 900.2,456.5 911.8,461.5 924.3,467.3 936.5,473.7 948.1,479.5 960.3,485.6" />
<polyline fill="none" stroke="#f0f0f0" stroke-width="0.95" points="95.8,469.0 120.9,466.2 145.2,462.9 156.7,464.2 168.3,468.3 192.6,470.1 216.9,473.4 241.3,475.7 252.8,478.3 264.3,476.0 275.9,473.4 288.7,470.9 300.2,465.5 313.0,463.2 324.6,459.8 337.4,458.0 348.9,456.0 361.7,458.0 373.2,459.1 377.6,460.6 401.9,460.6 413.4,462.4 419.8,465.0 436.5,467.0 449.3,470.1 468.5,474.7 480.0,477.3 492.9,476.0 504.4,473.2 515.9,470.1 528.7,465.5 540.3,463.2 551.8,458.6 564.6,455.5 576.1,453.4 588.9,453.4 600.5,449.1 612.0,447.0 624.8,445.0 636.3,441.9 642.7,441.9 649.1,443.2 660.7,447.5 668.0,445.0 673.7,444.0 683.9,444.9 694.0,441.7 708.6,440.3 723.1,443.2 737.6,451.3 756.5,458.6 768.1,456.5 781.1,449.0 792.8,446.9 821.8,448.4 839.2,447.8 853.7,449.0 865.3,450.4 877.0,454.2 888.6,467.3 900.2,474.5 911.8,480.3 924.3,493.4 936.5,497.8 948.1,505.0 960.3,508.5" />
<polyline fill="none" stroke="#e1e11e" stroke-width="0.95" points="96.5,614.4 108.5,611.9 120.5,608.8 132.5,606.2 144.5,603.2 156.5,604.2 168.5,609.3 180.5,613.4 192.5,615.7 204.5,619.6 216.5,621.6 228.5,622.9 240.5,622.9 252.5,625.5 264.5,624.2 276.5,620.3 288.5,616.5 300.5,611.9 312.5,608.3 324.5,605.0 336.5,602.9 348.5,601.9 360.5,602.4 372.5,605.0 384.5,607.5 396.5,608.3 408.5,610.1 420.5,617.3 432.5,621.1 444.5,624.2 456.5,626.7 468.5,631.1 480.5,635.7 492.5,633.1 504.5,628.0 516.5,622.1 528.5,616.5 540.5,611.4 552.5,607.0 564.5,603.2 576.5,600.6 588.5,599.8 600.5,599.1 612.5,599.1 624.5,599.8 636.5,598.6 648.5,601.6 660.5,607.5 672.5,608.4 684.5,610.2 696.5,608.1 708.5,607.3 720.5,608.1 732.5,613.9 744.5,621.8 756.5,627.6 768.5,626.1 780.5,622.7 792.5,621.2 804.5,622.4 816.5,623.2 828.5,621.2 840.5,620.3 852.5,619.5 864.5,620.3 876.5,625.6 888.5,631.1 900.5,635.4 912.5,638.6 924.5,644.4 936.5,646.5 948.5,650.2 960.5,652.9" />
<polyline fill="none" stroke="#f0f0f0" stroke-width="0.95" points="96.5,612.6 108.5,607.0 120.5,602.4 132.5,600.6 144.5,598.6 156.5,606.2 168.5,620.3 180.5,621.6 192.5,620.3 204.5,626.2 216.5,626.2 228.5,624.7 240.5,622.9 252.5,631.4 264.5,622.1 276.5,614.4 288.5,608.8 300.5,602.9 312.5,601.1 324.5,598.6 336.5,600.4 348.5,599.8 360.5,602.9 372.5,609.3 384.5,611.9 396.5,610.1 408.5,615.2 420.5,630.6 432.5,629.3 444.5,629.3 456.5,631.9 468.5,638.8 480.5,644.7 492.5,629.3 504.5,617.8 516.5,610.9 528.5,605.5 540.5,601.6 552.5,598.0 564.5,596.0 576.5,596.0 588.5,598.0 600.5,596.0 612.5,598.0 624.5,599.8 636.5,597.3 648.5,606.2 660.5,620.3 672.5,610.5 684.5,613.1 696.5,605.8 708.5,602.9 720.5,610.2 732.5,624.1 744.5,638.6 756.5,637.2 768.5,624.7 780.5,613.9 792.5,618.0 804.5,623.8 816.5,623.8 828.5,618.9 840.5,618.0 852.5,618.9 864.5,622.4 876.5,633.4 888.5,643.6 900.5,644.4 912.5,644.4 924.5,655.8 936.5,651.7 948.5,657.2 960.5,657.2" />
<polyline fill="none" stroke="#e628e6" stroke-width="0.95" points="96.5,610.9 108.5,597.3 120.5,589.6 132.5,587.8 144.5,587.0 156.5,608.8 168.5,642.6 180.5,637.0 192.5,628.8 204.5,639.6 216.5,636.5 228.5,628.0 240.5,622.1 252.5,644.7 264.5,613.9 276.5,599.1 288.5,592.2 300.5,584.5 312.5,588.3 324.5,585.2 336.5,594.7 348.5,592.2 360.5,603.7 372.5,621.6 384.5,621.6 396.5,615.7 408.5,622.9 420.5,654.9 432.5,645.4 444.5,641.6 456.5,641.6 468.5,656.2 480.5,661.3 492.5,620.3 504.5,598.6 516.5,589.6 528.5,582.4 540.5,580.6 552.5,580.1 564.5,581.9 576.5,587.0 588.5,595.5 600.5,591.4 612.5,597.3 624.5,601.6 636.5,594.7 648.5,619.1 660.5,645.4 672.5,615.4 684.5,620.3 696.5,600.9 708.5,595.1 720.5,613.1 732.5,642.1 744.5,670.3 756.5,659.5 768.5,624.7 780.5,599.4 792.5,611.6 804.5,625.3 816.5,625.3 828.5,615.1 840.5,613.7 852.5,616.0 864.5,623.2 876.5,647.9 888.5,670.3 900.5,661.6 912.5,657.2 924.5,677.5 936.5,662.4 948.5,671.7 960.5,666.2" />
<line x1="252.5" x2="252.5" y1="679" y2="684" stroke="#303030"/>
<line x1="492.5" x2="492.5" y1="679" y2="684" stroke="#303030"/>
<line x1="732.5" x2="732.5" y1="679" y2="684" stroke="#303030"/>
</g>
<g fill="none" stroke="#ee1010" stroke-width="2.2">
<ellipse cx="298" cy="8.5" rx="50" ry="9.5"/>
<ellipse cx="476.5" cy="10.5" rx="50.5" ry="13"/>
<ellipse cx="853" cy="455.5" rx="15" ry="13.5"/>
<ellipse cx="963.3" cy="510" rx="11.5" ry="10.8"/>
<ellipse cx="229.5" cy="571" rx="92" ry="13.5"/>
<ellipse cx="855" cy="619.5" rx="20" ry="18"/>
</g>
<text x="56.4" y="24.9" fill="#f0324b" textLength="30.2" lengthAdjust="spacingAndGlyphs">70.87</text>
<text x="1104.6" y="24.9" fill="#f0324b" textLength="30.2" lengthAdjust="spacingAndGlyphs">70.87</text>
<text x="56.4" y="81.1" fill="#f0324b" textLength="30.2" lengthAdjust="spacingAndGlyphs">66.75</text>
<text x="1104.6" y="81.1" fill="#f0324b" textLength="30.2" lengthAdjust="spacingAndGlyphs">66.75</text>
<text x="56.4" y="137.8" fill="#f0324b" textLength="30.2" lengthAdjust="spacingAndGlyphs">62.63</text>
<text x="1104.6" y="137.8" fill="#f0324b" textLength="30.2" lengthAdjust="spacingAndGlyphs">62.63</text>
<text x="56.4" y="194.7" fill="#f0324b" textLength="30.2" lengthAdjust="spacingAndGlyphs">58.51</text>
<text x="1104.6" y="194.7" fill="#f0324b" textLength="30.2" lengthAdjust="spacingAndGlyphs">58.51</text>
<text x="56.4" y="251.2" fill="#f0324b" textLength="30.2" lengthAdjust="spacingAndGlyphs">54.39</text>
<text x="1104.6" y="251.2" fill="#f0324b" textLength="30.2" lengthAdjust="spacingAndGlyphs">54.39</text>
<text x="56.4" y="307.7" fill="#f0324b" textLength="30.2" lengthAdjust="spacingAndGlyphs">50.27</text>
<text x="1104.6" y="307.7" fill="#f0324b" textLength="30.2" lengthAdjust="spacingAndGlyphs">50.27</text>
<text x="56.4" y="364.7" fill="#f0324b" textLength="30.2" lengthAdjust="spacingAndGlyphs">46.15</text>
<text x="1104.6" y="364.7" fill="#f0324b" textLength="30.2" lengthAdjust="spacingAndGlyphs">46.15</text>
<text x="63.1" y="443.0" fill="#f0324b" textLength="23.5" lengthAdjust="spacingAndGlyphs">2.66</text>
<text x="1104.6" y="443.0" fill="#f0324b" textLength="23.5" lengthAdjust="spacingAndGlyphs">2.66</text>
<text x="63.1" y="466.3" fill="#f0324b" textLength="23.5" lengthAdjust="spacingAndGlyphs">1.73</text>
<text x="1104.6" y="466.3" fill="#f0324b" textLength="23.5" lengthAdjust="spacingAndGlyphs">1.73</text>
<text x="63.1" y="489.7" fill="#f0324b" textLength="23.5" lengthAdjust="spacingAndGlyphs">0.80</text>
<text x="1104.6" y="489.7" fill="#f0324b" textLength="23.5" lengthAdjust="spacingAndGlyphs">0.80</text>
<text x="59.1" y="513.0" fill="#f0324b" textLength="27.5" lengthAdjust="spacingAndGlyphs">-0.12</text>
<text x="1104.6" y="513.0" fill="#f0324b" textLength="27.5" lengthAdjust="spacingAndGlyphs">-0.12</text>
<text x="59.1" y="536.9" fill="#f0324b" textLength="27.5" lengthAdjust="spacingAndGlyphs">-1.05</text>
<text x="1104.6" y="536.9" fill="#f0324b" textLength="27.5" lengthAdjust="spacingAndGlyphs">-1.05</text>
<text x="49.7" y="583.3" fill="#f0324b" textLength="36.9" lengthAdjust="spacingAndGlyphs">112.27</text>
<text x="1104.6" y="583.3" fill="#f0324b" textLength="36.9" lengthAdjust="spacingAndGlyphs">112.27</text>
<text x="56.4" y="607.3" fill="#f0324b" textLength="30.2" lengthAdjust="spacingAndGlyphs">84.26</text>
<text x="1104.6" y="607.3" fill="#f0324b" textLength="30.2" lengthAdjust="spacingAndGlyphs">84.26</text>
<text x="56.4" y="631.9" fill="#f0324b" textLength="30.2" lengthAdjust="spacingAndGlyphs">56.25</text>
<text x="1104.6" y="631.9" fill="#f0324b" textLength="30.2" lengthAdjust="spacingAndGlyphs">56.25</text>
<text x="56.4" y="656.8" fill="#f0324b" textLength="30.2" lengthAdjust="spacingAndGlyphs">28.23</text>
<text x="1104.6" y="656.8" fill="#f0324b" textLength="30.2" lengthAdjust="spacingAndGlyphs">28.23</text>
<text x="1096.3" y="169.5" text-anchor="end" font-weight="bold" fill="#ff1414" textLength="70.5" lengthAdjust="spacingAndGlyphs">0.236 \ 59.85</text>
<text x="1096.3" y="239" text-anchor="end" font-weight="bold" fill="#ff1414" textLength="70.5" lengthAdjust="spacingAndGlyphs">0.382 \ 54.84</text>
<text x="1096.3" y="295" text-anchor="end" font-weight="bold" fill="#ff1414" textLength="70.5" lengthAdjust="spacingAndGlyphs">0.500 \ 50.78</text>
<text x="1096.3" y="350" text-anchor="end" font-weight="bold" fill="#ff1414" textLength="70.5" lengthAdjust="spacingAndGlyphs">0.618 \ 46.73</text>
<text x="797" y="57.5" font-weight="bold" fill="#f02840" textLength="31.5" lengthAdjust="spacingAndGlyphs">67.98</text>
<text x="929" y="220.5" font-weight="bold" fill="#3cc888" textLength="31" lengthAdjust="spacingAndGlyphs">57.25</text>
<text x="92.5" y="13.78" fill="#f4f4f4" font-family="'Liberation Sans', 'Noto Sans CJK SC', sans-serif" font-size="11.8" textLength="59" lengthAdjust="spacing">美原油连续</text>
<text x="153.8" y="13.6" fill="#ffc850" font-size="11">&lt;</text>
<text x="161" y="13.78" fill="#ffc850" font-family="'Liberation Sans', 'Noto Sans CJK SC', sans-serif" font-size="11.8" textLength="23.6" lengthAdjust="spacing">日线</text>
<text x="186.3" y="13.6" fill="#ffc850" font-size="11">&gt;</text>
<g shape-rendering="crispEdges"><rect x="203" y="3" width="11" height="12" fill="#808080"/><rect x="202" y="2" width="11" height="12" fill="#ffffff"/></g>
<polyline fill="none" stroke="#ff0000" stroke-width="1.2" points="203,8 206,4.5 208,7 211,4 213,5.5"/>
<polyline fill="none" stroke="#0000ff" stroke-width="1.2" points="203,11.5 206,8 208,10.5 211,7.5 213,9"/>
<text x="216.5" y="13.5" fill="#f4f4f4" textLength="60.5" lengthAdjust="spacingAndGlyphs" >BOLL(26.2)</text>
<text x="283.5" y="13.5" fill="#f4f4f4" textLength="57.2" lengthAdjust="spacingAndGlyphs" >MID:62.30</text>
<text x="350" y="13.5" fill="#d2d228" textLength="71" lengthAdjust="spacingAndGlyphs" >UPPER:67.44</text>
<text x="429.5" y="13.5" fill="#e628e6" textLength="76.5" lengthAdjust="spacingAndGlyphs" >LOWER:57.16</text>
<text x="92.5" y="432" fill="#f4f4f4" textLength="84.7" lengthAdjust="spacingAndGlyphs" >MACD(26,12,9)</text>
<text x="183.1" y="432" fill="#f4f4f4" textLength="55.6" lengthAdjust="spacingAndGlyphs" >DIFF:-0.06</text>
<text x="248.2" y="432" fill="#d2d228" textLength="49.5" lengthAdjust="spacingAndGlyphs" >DEA:0.84</text>
<text x="307" y="432" fill="#e628e6" textLength="67.5" lengthAdjust="spacingAndGlyphs" >MACD:-1.80</text>
<text x="92.5" y="572" fill="#f4f4f4" textLength="55.3" lengthAdjust="spacingAndGlyphs" >KDJ(9,3,3)</text>
<text x="153.7" y="572" fill="#f4f4f4" textLength="41.5" lengthAdjust="spacingAndGlyphs" >K:24.98</text>
<text x="204" y="572" fill="#d2d228" textLength="42" lengthAdjust="spacingAndGlyphs" >D:30.08</text>
<text x="254.5" y="572" fill="#e628e6" textLength="37.5" lengthAdjust="spacingAndGlyphs" >J:14.79</text>
<text x="254" y="690.8" font-weight="bold" fill="#b4bac4" textLength="45" lengthAdjust="spacingAndGlyphs">2021/01</text>
<text x="494" y="690.8" font-weight="bold" fill="#b4bac4" textLength="45" lengthAdjust="spacingAndGlyphs">2021/02</text>
<text x="734" y="690.8" font-weight="bold" fill="#b4bac4" textLength="45" lengthAdjust="spacingAndGlyphs">2021/03</text>
<g shape-rendering="crispEdges">
<rect x="950.5" y="0.5" width="84" height="15" fill="#0a0a0a" stroke="#8c8c8c"/>
<rect x="1038.5" y="1.5" width="13" height="13" fill="#0a0a0a" stroke="#c8c8c8"/>
<rect x="1054.5" y="1.5" width="13" height="13" fill="#0a0a0a" stroke="#c8c8c8"/>
<rect x="1070.5" y="1.5" width="13" height="13" fill="#0a0a0a" stroke="#c8c8c8"/>
<rect x="1086.5" y="1.5" width="13" height="13" fill="#0a0a0a" stroke="#c8c8c8"/>
<path fill="#d0d0d0" d="M1044 3h2v3h-2zM1044 10h2v3h-2zM1040 7h3v2h-3zM1047 7h3v2h-3zM1044 7h2v2h-2z"/>
<path fill="none" stroke="#d0d0d0" d="M1057.500 3v10M1056 11.500h10M1060.500 4v5"/><path fill="#d0d0d0" d="M1065 4v5l-4 -2.500zM1056 4h1v1h-1zM1058 4h1v1h-1zM1056 12h1v1h-1zM1058 12h1v1h-1zM1064 10h1v1h-1zM1064 12h1v1h-1z"/>
<path fill="none" stroke="#d0d0d0" d="M1073.500 3v10M1072 11.500h10"/><path fill="#d0d0d0" d="M1076 3v7l5 -3.500zM1072 4h1v1h-1zM1074 4h1v1h-1zM1072 12h1v1h-1zM1074 12h1v1h-1zM1080 10h1v1h-1zM1080 12h1v1h-1z"/>
<path fill="none" stroke="#d0d0d0" d="M1088.500 4.500h3v7h-3zM1092 8.500h6"/><path fill="#d0d0d0" d="M1095 5.500l3 3l-3 3z"/>
</g>
<text x="962" y="12.27" fill="#9a9a9a" font-family="'Liberation Sans', 'Noto Sans CJK SC', sans-serif" font-size="11.9" textLength="47.6" lengthAdjust="spacing">全部主题</text>
<path fill="#9a9a9a" d="M1012 5h8.500l-4.250 8z"/>
<g><circle cx="29" cy="565" r="4" fill="#000"/><circle cx="29" cy="565" r="3" fill="#fff"/><circle cx="29" cy="565" r="1.9" fill="#ff0000"/><path stroke="#ff0000" stroke-width="1" fill="none" d="M29 558v2.200M29 569.800v2.200M22 565h2.200M33.800 565h2.200M24 560l1.500 1.500M32.500 568.500l1.500 1.500M34 560l-1.500 1.500M25.500 568.500l-1.500 1.500"/></g>
<text x="34.6" y="693.82" fill="#ffc040" font-weight="bold" font-family="'Liberation Sans', 'Noto Sans CJK SC', sans-serif" font-size="12.3" textLength="24.6" lengthAdjust="spacing">日线</text>
<path fill="#ffc040" d="M64.500 693.500h9l-4.500 -8.500z"/>
<g shape-rendering="crispEdges">
<rect x="60" y="699" width="39" height="14" fill="#40424e"/>
<rect x="238" y="699" width="39" height="14" fill="#40424e"/>
<line x1="157.5" x2="157.5" y1="698" y2="714" stroke="#262626"/>
<line x1="197.5" x2="197.5" y1="698" y2="714" stroke="#262626"/>
<line x1="341.5" x2="341.5" y1="698" y2="714" stroke="#262626"/>
</g>
<text x="28.4" y="709.81" fill="#b0b0b0" font-family="'Liberation Sans', 'Noto Sans CJK SC', sans-serif" font-size="11.6" textLength="23.2" lengthAdjust="spacing">指标</text>
<text x="67.6" y="710.16" fill="#ffffff" font-family="'Liberation Sans', 'Noto Sans CJK SC', sans-serif" font-size="12" textLength="24" lengthAdjust="spacing">模板</text>
<text x="108.4" y="710.8" font-family="Liberation Mono, monospace" font-size="12.5" fill="#ffb432" textLength="18" lengthAdjust="spacingAndGlyphs">VIP</text>
<text x="126" y="709.81" fill="#ffb432" font-family="'Liberation Sans', 'Noto Sans CJK SC', sans-serif" font-size="11.6" textLength="23.2" lengthAdjust="spacing">指标</text>
<text x="165.7" y="709.81" fill="#b0b0b0" font-family="'Liberation Sans', 'Noto Sans CJK SC', sans-serif" font-size="11.6" textLength="23.2" lengthAdjust="spacing">标准</text>
<text x="206" y="710.5" font-family="Liberation Mono, monospace" font-size="12.5" fill="#b0b0b0" textLength="23" lengthAdjust="spacingAndGlyphs">MACD</text>
<text x="246" y="710.5" font-family="Liberation Mono, monospace" font-size="12.5" fill="#ffffff" textLength="23" lengthAdjust="spacingAndGlyphs">BOLL</text>
<text x="286" y="709.98" fill="#b0b0b0" font-family="'Liberation Sans', 'Noto Sans CJK SC', sans-serif" font-size="11.8" textLength="47.2" lengthAdjust="spacing">另存模板</text>
<text x="1042.5" y="688.3" font-size="29.5" fill="#e6ecf6" textLength="98" lengthAdjust="spacing" stroke="#0a0a0a" stroke-width="0.6">FX678</text>
</svg></body></html>
